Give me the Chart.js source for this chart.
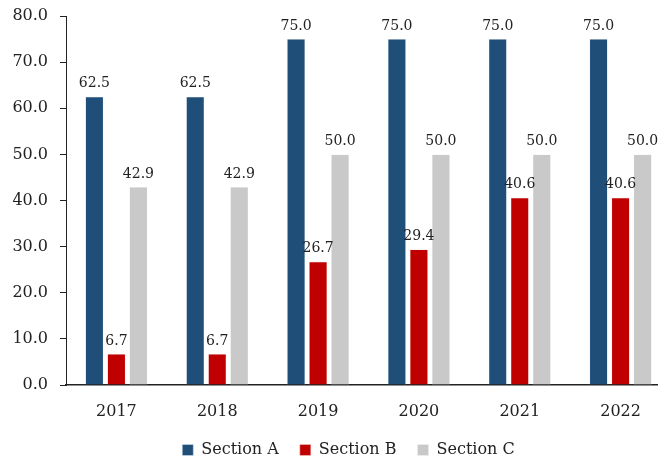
<!DOCTYPE html>
<html>
<head>
<meta charset="utf-8">
<script src="https://cdn.jsdelivr.net/npm/chart.js@4.4.1/dist/chart.umd.min.js"></script>
<style>
  html, body { margin: 0; padding: 0; background: #fff; overflow: hidden; }
  #wrap { width: 671px; height: 460px; }
</style>
</head>
<body>
<div id="wrap"><canvas id="sectionChart"></canvas></div>
<script>
const years = ["2017", "2018", "2019", "2020", "2021", "2022"];
const sectionA = [62.5, 62.5, 75.0, 75.0, 75.0, 75.0];
const sectionB = [6.7, 6.7, 26.7, 29.4, 40.6, 40.6];
const sectionC = [42.9, 42.9, 50.0, 50.0, 50.0, 50.0];
const yTicks = [0, 10, 20, 30, 40, 50, 60, 70, 80];

const fontFamily = "'DejaVu Serif', serif";

// labels above each bar
const valueLabels = {
  id: "valueLabels",
  afterDatasetsDraw(chart) {
    const ctx = chart.ctx;
    ctx.save();
    ctx.font = "14px " + fontFamily;
    ctx.fillStyle = "#222";
    ctx.textAlign = "center";
    ctx.textBaseline = "bottom";
    chart.data.datasets.forEach((ds, i) => {
      chart.getDatasetMeta(i).data.forEach((bar, j) => {
        ctx.fillText(ds.data[j].toFixed(1), bar.x, bar.y - 6);
      });
    });
    ctx.restore();
  }
};

// nudge the legend a little to the right, like the original
const legendShift = {
  id: "legendShift",
  afterLayout(chart) {
    if (!chart.legend) return;
    chart.legend.left += 9;
    chart.legend.right += 9;
  }
};

new Chart(document.getElementById("sectionChart"), {
  type: "bar",
  data: {
    labels: years,
    datasets: [
      { label: "Section A", data: sectionA, backgroundColor: "#1F4E79", borderColor: "#dbe3ec", borderWidth: 0.5 },
      { label: "Section B", data: sectionB, backgroundColor: "#C00000", borderColor: "#f0d0d0", borderWidth: 0.5 },
      { label: "Section C", data: sectionC, backgroundColor: "#C9C9C9", borderColor: "#eeeeee", borderWidth: 0.5 }
    ]
  },
  options: {
    responsive: true,
    maintainAspectRatio: false,
    animation: false,
    datasets: { bar: { categoryPercentage: 0.655, barPercentage: 0.82 } },
    layout: { padding: { left: 8, right: 0, top: 16, bottom: -8 } },
    plugins: {
      legend: {
        position: "bottom",
        labels: {
          boxWidth: 11,
          boxHeight: 11,
          padding: 21,
          color: "#222",
          font: { family: fontFamily, size: 16 }
        }
      },
      tooltip: { enabled: false }
    },
    scales: {
      x: {
        afterFit(scale) {
          scale.height = 36;
        },
        grid: { display: false, drawTicks: false },
        border: { color: "#222", width: 1.5 },
        ticks: { color: "#222", padding: 17, font: { family: fontFamily, size: 16 } }
      },
      y: {
        min: 0,
        max: 80,
        afterBuildTicks(scale) {
          scale.ticks = yTicks.map((v) => ({ value: v }));
        },
        afterFit(scale) {
          scale.width = 58;
          scale.paddingTop = 0;
          scale.paddingBottom = 0;
        },
        grid: { drawOnChartArea: false, tickLength: 6, color: "#222", tickWidth: 1 },
        border: { color: "#222", width: 1 },
        ticks: {
          color: "#222",
          padding: 12,
          font: { family: fontFamily, size: 16 },
          callback: (v) => Number(v).toFixed(1)
        }
      }
    }
  },
  plugins: [valueLabels, legendShift]
});
</script>
</body>
</html>
